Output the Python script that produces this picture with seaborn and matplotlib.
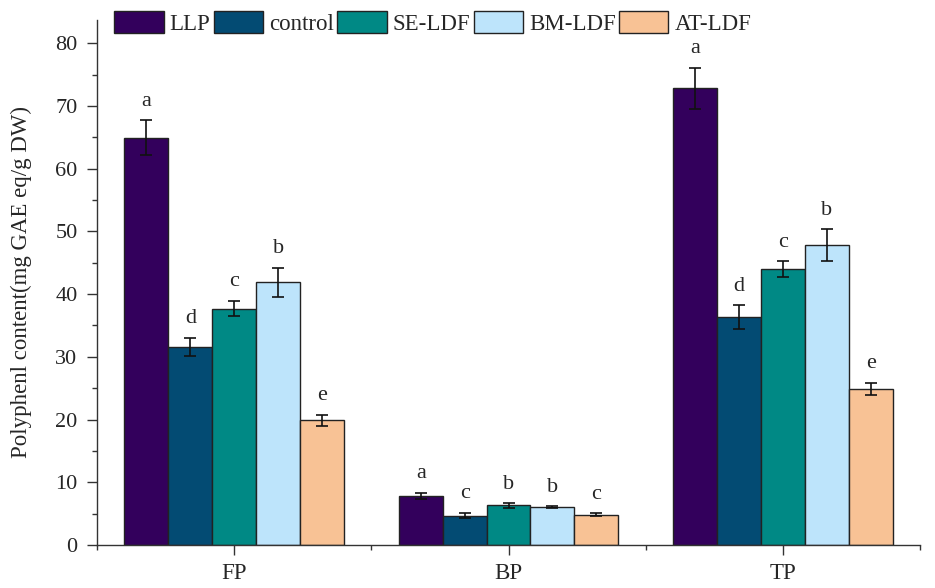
import matplotlib
matplotlib.use("Agg")
import matplotlib.pyplot as plt
import seaborn as sns
import pandas as pd
import numpy as np
from matplotlib.ticker import MultipleLocator, FixedLocator

categories = ["FP", "BP", "TP"]
groups = ["LLP", "control", "SE-LDF", "BM-LDF", "AT-LDF"]
colors = ["#33005c", "#034b73", "#008985", "#bde4fb", "#f8c295"]

LLP = [64.9, 7.8, 72.8]
control = [31.6, 4.7, 36.3]
SE_LDF = [37.7, 6.3, 44.0]
BM_LDF = [41.9, 6.0, 47.8]
AT_LDF = [19.9, 4.8, 24.9]

LLP_err = [2.8, 0.5, 3.3]
control_err = [1.4, 0.4, 1.9]
SE_LDF_err = [1.2, 0.35, 1.2]
BM_LDF_err = [2.3, 0.15, 2.5]
AT_LDF_err = [0.9, 0.25, 1.0]

LLP_sig = ["a", "a", "a"]
control_sig = ["d", "c", "d"]
SE_LDF_sig = ["c", "b", "c"]
BM_LDF_sig = ["b", "b", "b"]
AT_LDF_sig = ["e", "c", "e"]

values = [LLP, control, SE_LDF, BM_LDF, AT_LDF]
errors = [LLP_err, control_err, SE_LDF_err, BM_LDF_err, AT_LDF_err]
sigs = [LLP_sig, control_sig, SE_LDF_sig, BM_LDF_sig, AT_LDF_sig]

rows = []
for g, vals in zip(groups, values):
    for c, v in zip(categories, vals):
        rows.append({"cat": c, "group": g, "value": v})
df = pd.DataFrame(rows)

sns.set_style("ticks")
plt.rcParams["font.family"] = ["Liberation Serif", "DejaVu Serif"]

fig = plt.figure(figsize=(9.35, 5.88), dpi=100)
ax = fig.add_axes([97/935, 43/588, (920-97)/935, (545-20)/588])

sns.barplot(data=df, x="cat", y="value", hue="group", order=categories,
            hue_order=groups, palette=colors, width=0.8, errorbar=None,
            edgecolor="#222222", linewidth=1.0, saturation=1, ax=ax, legend=True)

bar_conts = list(ax.containers)
for ci, cont in enumerate(bar_conts):
    for bi, bar in enumerate(list(cont)):
        xc = bar.get_x() + bar.get_width() / 2
        h = bar.get_height()
        e = errors[ci][bi]
        ax.errorbar(xc, h, yerr=e, fmt="none", ecolor="#111111",
                    elinewidth=1.2, capsize=4, capthick=1.2, zorder=5)
        ax.annotate(sigs[ci][bi], (xc, h + e), xytext=(0, 7),
                    textcoords="offset points", ha="center", va="bottom",
                    fontsize=16)

ax.set_xlim(-0.5, 2.5)
ax.set_ylim(0, 83.7)
ax.yaxis.set_major_locator(MultipleLocator(10))
ax.yaxis.set_minor_locator(MultipleLocator(5))
ax.xaxis.set_minor_locator(FixedLocator([-0.5, 0.5, 1.5, 2.5]))
ax.tick_params(axis="both", which="major", direction="out", length=7, width=1.0,
               color="#333333")
ax.tick_params(axis="y", which="major", labelsize=16, pad=7)
ax.tick_params(axis="y", which="minor", direction="out", length=3.6, width=1.0, color="#333333")
ax.tick_params(axis="x", which="minor", direction="out", length=3.6, width=1.0, color="#333333")
ax.tick_params(axis="x", which="major", labelsize=16.5, pad=6)
for s in ["top", "right"]:
    ax.spines[s].set_visible(False)
for s in ["left", "bottom"]:
    ax.spines[s].set_linewidth(1.0)
    ax.spines[s].set_color("#333333")

ax.set_xlabel("")
ax.set_ylabel("Polyphenl content(mg GAE eq/g DW)", fontsize=16.5)
ax.yaxis.set_label_coords(-0.079, 0.5)

handles, labels = ax.get_legend_handles_labels()
if ax.get_legend() is not None:
    ax.get_legend().remove()
fig.legend(handles, labels, loc="upper left", bbox_to_anchor=(103/935, 1.0),
           ncol=5, frameon=False, fontsize=16.5, handlelength=2.15, handleheight=1.1,
           handletextpad=0.26, columnspacing=0.15, borderaxespad=0.1)

fig.savefig("out.png", dpi=100, facecolor="white")
